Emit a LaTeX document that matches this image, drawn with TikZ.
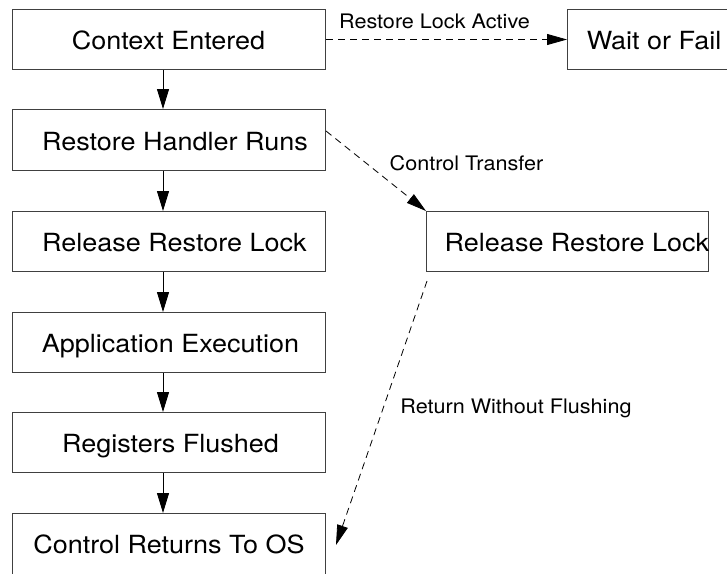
\documentclass[tikz,border=0pt]{standalone}
\usepackage{fontspec}
\setmainfont{TeX Gyre Heros}[FakeStretch=1.08]
\usetikzlibrary{arrows.meta}
\begin{document}
\begin{tikzpicture}[x=1pt,y=-1pt,
  box/.style={draw=black!75, line width=1pt, minimum width=313pt, minimum height=60pt, inner sep=0pt, anchor=north west},
  btext/.style={inner sep=0pt, anchor=base, font=\fontsize{25pt}{30pt}\selectfont},
  ltext/.style={inner sep=0pt, anchor=base, font=\fontsize{20pt}{24pt}\selectfont},
  arr/.style={line width=1pt, -{Triangle[length=20pt,width=12pt]}},
  darr/.style={line width=0.8pt, dash pattern=on 7pt off 5pt, -{Triangle[length=20pt,width=11pt]}}]
\useasboundingbox (0,0) rectangle (727,573);
\coordinate (col) at (163,0);
% boxes
\node[box] (A) at (12,9) {};
\node[box, minimum height=61pt] (B) at (12,109) {};
\node[box] (C) at (12,211) {};
\node[box] (D) at (12,312) {};
\node[box] (E) at (12,412) {};
\node[box, minimum height=63pt] (F) at (12,513) {};
\node[box, minimum width=200pt] (W) at (567,9) {};
\node[box, minimum width=282pt] (R) at (426,211) {};
% box texts
\node[btext] (tA) at (168.5,49.5) {Context Entered};
\node[btext] (tB) at (175,150) {Restore Handler Runs};
\node[btext] (tC) at (174.5,251.5) {Release Restore Lock};
\node[btext] (tD) at (170.5,352.5) {Application Execution};
\node[btext] (tE) at (170.5,452.5) {Registers Flushed};
\node[btext] (tF) at (169,553) {Control Returns To OS};
\node[btext] (tW) at (654,49.5) {Wait or Fail};
\node[btext] (tR) at (577,251.5) {Release Restore Lock};
% connector labels
\node[ltext] (l1) at (434.5,28) {Restore Lock Active};
\node[ltext] (l2) at (466.5,170) {Control Transfer};
\node[ltext] (l3) at (516,413) {Return Without Flushing};
% solid arrows
\draw[arr] (A.south -| col) -- (B.north -| col);
\draw[arr] (B.south -| col) -- (C.north -| col);
\draw[arr] (C.south -| col) -- (D.north -| col);
\draw[arr] (D.south -| col) -- (E.north -| col);
\draw[arr] (E.south -| col) -- (F.north -| col);
% dashed arrows
\draw[darr] (A.east) -- (W.west);
\draw[darr] ([yshift=9pt]B.east) -- (R.north west);
\draw[darr] ([shift={(1pt,-9pt)}]R.south west) -- ([xshift=10pt]F.east);
\end{tikzpicture}
\end{document}
